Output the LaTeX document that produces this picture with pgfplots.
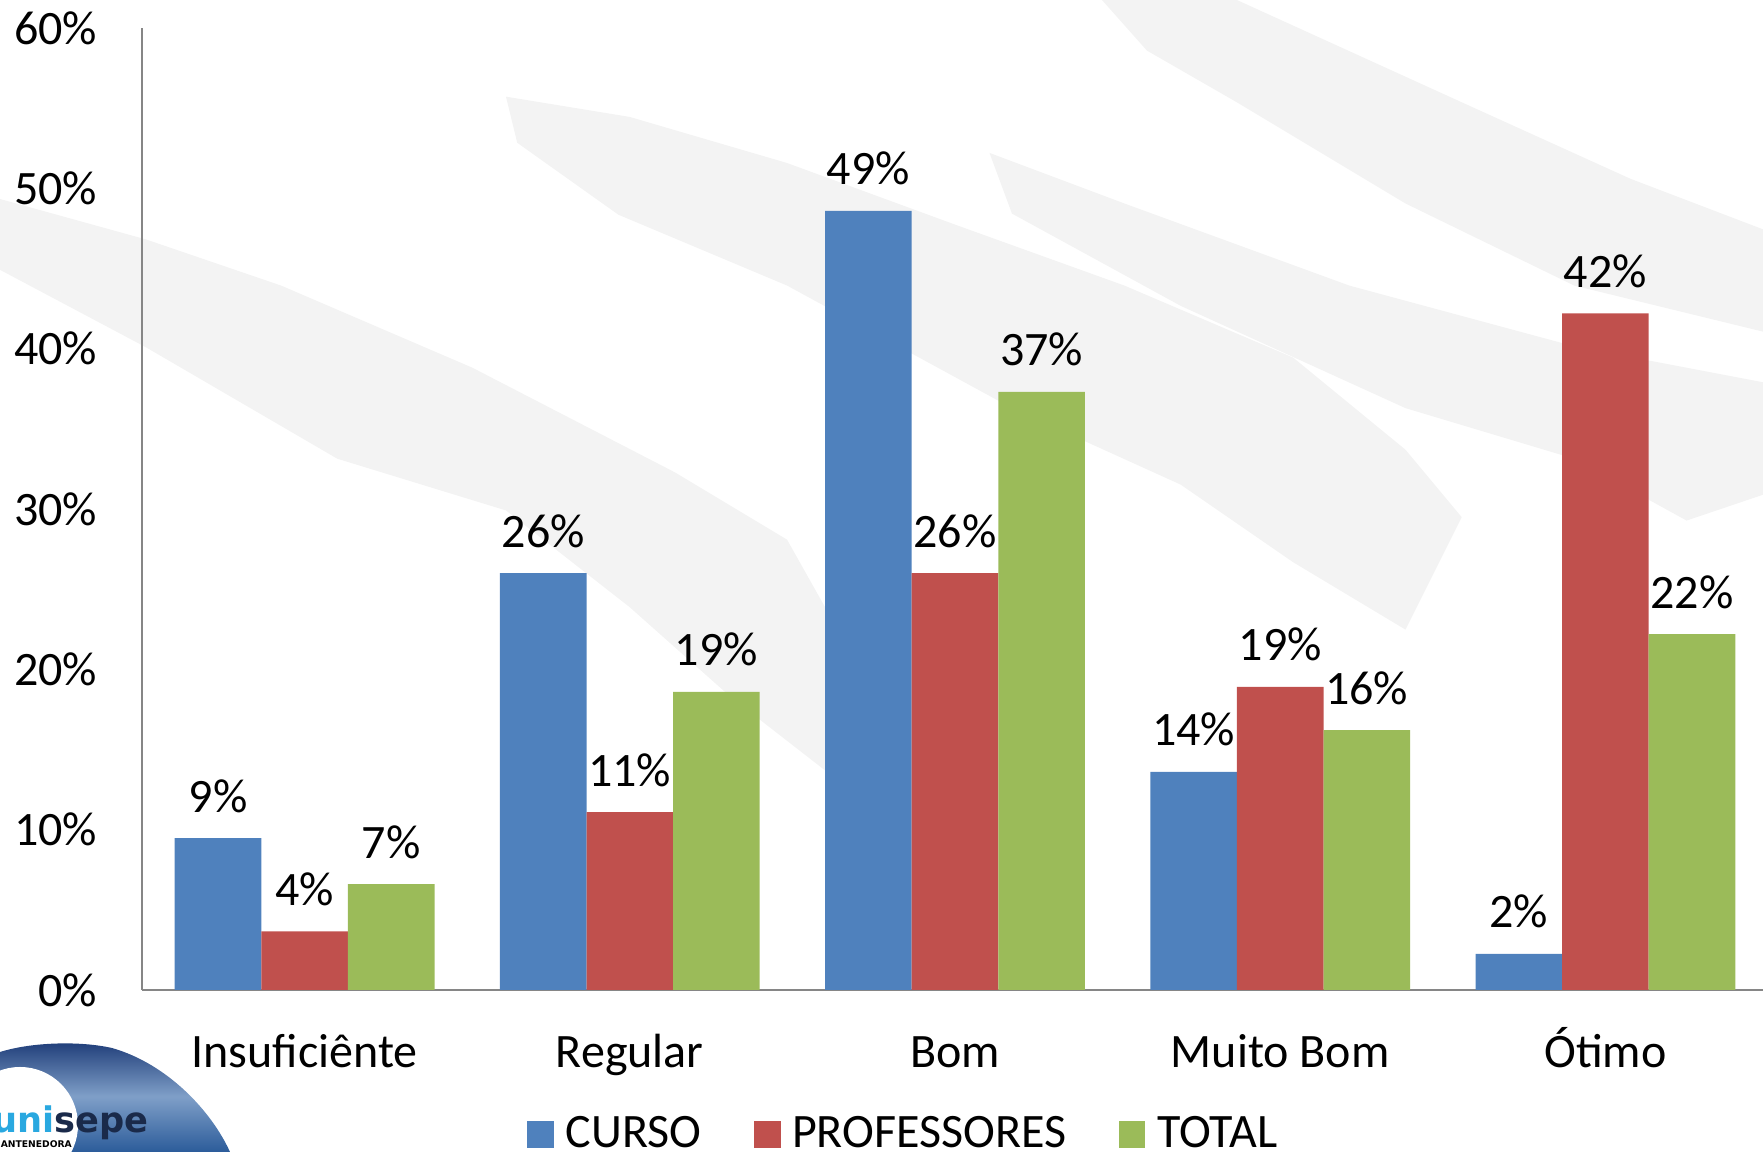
\documentclass[border=0pt]{standalone}
\usepackage{fontspec}
\setmainfont{Carlito}
\newfontfamily\logofont{DejaVu Sans}
\usepackage{pgfplots}
\pgfplotsset{compat=1.18}
\definecolor{cblue}{HTML}{4F81BD}
\definecolor{cred}{HTML}{C0504D}
\definecolor{cgreen}{HTML}{9BBB59}
\definecolor{axisgray}{HTML}{868686}
\definecolor{wm}{HTML}{F3F3F3}
\definecolor{logodark}{HTML}{1E3C78}
\definecolor{logomid}{HTML}{7F9FC8}
\definecolor{logobot}{HTML}{2C5C9A}
\definecolor{unilight}{HTML}{29A8E0}
\definecolor{sepedark}{HTML}{1A2A4A}
\begin{document}
\begin{tikzpicture}[font=\fontsize{12}{14}\selectfont]
\useasboundingbox (0,0) rectangle (440.75pt,288pt);
% watermark strokes (decorative), in reference-pixel units
\begin{scope}[x=0.2811pt, y=-0.2811pt, shift={(0pt,288pt)}]
\fill[wm] (0,177) -- (130,213) -- (250,254) -- (420,327) -- (600,420) -- (700,480) -- (745,560)
  -- (740,690) -- (650,620) -- (560,540) -- (450,454) -- (300,408) -- (130,309) -- (0,240) -- cycle;
\fill[wm] (450,86) -- (560,104) -- (700,145) -- (850,200) -- (1000,254) -- (1150,318) -- (1250,400) -- (1300,460)
  -- (1250,560) -- (1150,500) -- (1050,431) -- (900,363) -- (700,254) -- (550,191) -- (460,127) -- cycle;
\fill[wm] (880,136) -- (1000,181) -- (1200,254) -- (1400,308) -- (1568,340)
  -- (1568,440) -- (1500,463) -- (1400,408) -- (1250,363) -- (1050,272) -- (900,190) -- cycle;
\fill[wm] (980,0) -- (1100,0) -- (1300,91) -- (1450,159) -- (1568,204)
  -- (1568,295) -- (1400,254) -- (1250,181) -- (1100,91) -- (1020,45) -- cycle;
\end{scope}
\begin{axis}[
  at={(35.5pt,40.5pt)}, anchor=south west,
  scale only axis, width=406.5pt, height=240.5pt,
  ybar=0pt, bar width=21.65pt,
  xmin=-0.5, xmax=4.5, ymin=0, ymax=60,
  xtick={0,1,2,3,4},
  xticklabels={Insuficiênte,Regular,Bom,Muito Bom,Ótimo},
  ytick={0,10,20,30,40,50,60},
  yticklabel={\pgfmathprintnumber{\tick}\%},
  /pgf/number format/assume math mode=true,
  axis x line*=bottom, axis y line*=left,
  axis line style={draw=axisgray, line width=0.6pt, -},
  major tick length=0pt,
  xticklabel style={anchor=base, yshift=-19.5pt},
  yticklabel style={anchor=east, inner sep=0pt, xshift=-11pt},
  nodes near coords={\pgfmathprintnumber[fixed,precision=0]{\pgfplotspointmeta}\%},
  nodes near coords style={anchor=base, inner sep=0pt, yshift=6.5pt, text=black},
  legend style={at={(0.4700,-0.1506)}, anchor=center, draw=none, fill=none,
    legend columns=3,
    nodes={inner ysep=0.5pt},
    /tikz/every even column/.append style={column sep=11.1pt},
    /tikz/every odd column/.append style={column sep=0.9pt},
    font=\fontsize{12}{14}\selectfont},
  legend image code/.code={\path[#1,draw=none] (0pt,-3.3pt) rectangle (6.7pt,3.4pt);},
  legend cell align=left,
  clip=false,
]
\addplot[fill=cblue, draw=none] coordinates {(0,9.47) (1,26.0) (2,48.6) (3,13.6) (4,2.25)};
\addplot[fill=cred, draw=none] coordinates {(0,3.65) (1,11.1) (2,26.0) (3,18.9) (4,42.2)};
\addplot[fill=cgreen, draw=none] coordinates {(0,6.6) (1,18.6) (2,37.3) (3,16.2) (4,22.2)};
\legend{CURSO,PROFESSORES,TOTAL}
\end{axis}
% logo (decorative)
\shade[top color=logodark, bottom color=logobot, middle color=logomid]
  (0pt,0pt) -- (0pt,25pt) .. controls (8pt,27.5pt) and (20pt,27.8pt) .. (28pt,26pt)
  .. controls (42pt,22pt) and (53pt,10pt) .. (57.5pt,0pt) -- cycle;
\fill[white] (5pt,6.75pt) circle (14.5pt);
\fill[white] (0pt,0pt) rectangle (5pt,6.75pt);
\node[anchor=base west, inner sep=0pt, font=\logofont\bfseries\fontsize{8.8}{10}\selectfont] at (-2pt,4.8pt)
  {\textcolor{unilight}{uni}\textcolor{sepedark}{sepe}};
\node[anchor=base west, inner sep=0pt, font=\logofont\bfseries\fontsize{2.3}{3}\selectfont] at (0pt,1.2pt) {ANTENEDORA};
\end{tikzpicture}
\end{document}
